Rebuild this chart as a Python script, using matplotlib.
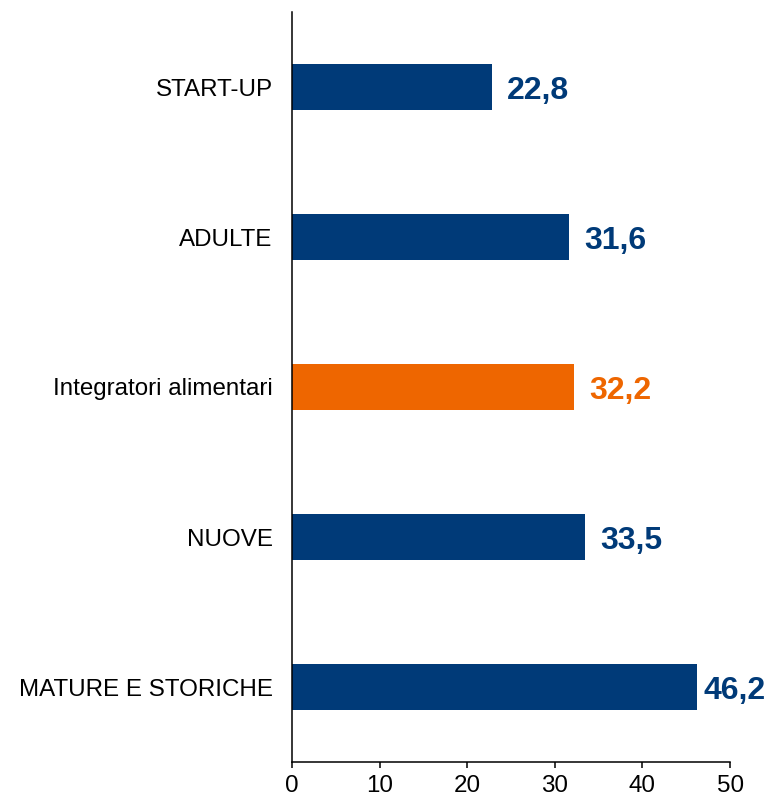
import matplotlib
matplotlib.use('Agg')
import matplotlib.pyplot as plt

# dati (dal basso verso l'alto nel grafico)
categorie = ['MATURE E STORICHE', 'NUOVE', 'Integratori alimentari', 'ADULTE', 'START-UP']
valori = [46.2, 33.5, 32.2, 31.6, 22.8]
etichette = ['46,2', '33,5', '32,2', '31,6', '22,8']
evidenziata = 'Integratori alimentari'

BLU = '#003A78'
ARANCIO = '#EE6600'

plt.rcParams['font.family'] = ['Liberation Sans', 'DejaVu Sans']

fig = plt.figure(figsize=(7.69, 8.0), dpi=100)
ax = fig.add_axes([292 / 769, 1 - 762 / 800, (730 - 292) / 769, 750 / 800])

colori = [ARANCIO if c == evidenziata else BLU for c in categorie]
pos = list(range(len(categorie)))
bars = ax.barh(pos, valori, height=0.31, color=colori)

testi = []
for b, lab, col in zip(bars, etichette, colori):
    t = ax.annotate(lab, (b.get_width(), b.get_y() + b.get_height() / 2),
                    xytext=(11, 0), textcoords='offset points',
                    ha='left', va='center_baseline', fontsize=23,
                    fontweight='bold', color=col)
    testi.append(t)

ax.set_xlim(0, 50)
ax.set_ylim(-0.5, len(categorie) - 0.5)
ax.set_xticks([0, 10, 20, 30, 40, 50])
ax.set_yticks(pos)
ax.set_yticklabels(categorie)

ax.tick_params(axis='y', length=0, pad=14, labelsize=17.4)
ax.tick_params(axis='x', length=4.5, width=1.1, pad=5, labelsize=17.4, direction='out')

for s in ['top', 'right']:
    ax.spines[s].set_visible(False)
for s in ['left', 'bottom']:
    ax.spines[s].set_linewidth(1.1)
    ax.spines[s].set_color('black')

# le etichette che escono dal bordo destro vengono spostate a sinistra
fig.canvas.draw()
r = fig.canvas.get_renderer()
larg = fig.bbox.width
for t in testi:
    bb = t.get_window_extent(r)
    if bb.x1 > larg - 3:
        dx = (bb.x1 - (larg - 3)) * 72 / fig.dpi
        x0, y0 = t.xyann
        t.xyann = (x0 - dx, y0)

fig.savefig('out.png', dpi=100)
